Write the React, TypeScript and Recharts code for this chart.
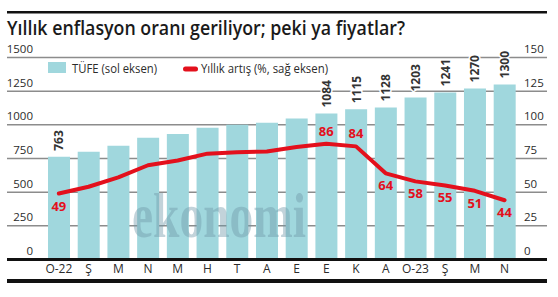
import React from 'react';
import {
  ComposedChart,
  Bar,
  Line,
  XAxis,
  YAxis,
  CartesianGrid,
  LabelList,
} from 'recharts';

// Categories (months Jan 2022 – Apr 2023)
const months = ['O-22', 'Ş', 'M', 'N', 'M', 'H', 'T', 'A', 'E', 'E', 'K', 'A', 'O-23', 'Ş', 'M', 'N'];
// TÜFE index (left axis)
const tufe = [763, 800, 844, 905, 932, 978, 1001, 1016, 1047, 1084, 1115, 1128, 1203, 1241, 1270, 1300];
// Annual change % (right axis)
const rate = [49, 54, 61, 70, 73.5, 78.6, 79.6, 80.2, 83.5, 86, 84, 64, 58, 55, 51, 44];
// Which bars / points carry value labels
const barLabelIdx = [0, 9, 10, 11, 12, 13, 14, 15];
const rateLabelAboveIdx = [9, 10];
const rateLabelBelowIdx = [0, 11, 12, 13, 14, 15];
// Tick labels
const leftTicks = [0, 250, 500, 750, 1000, 1250, 1500];
const rightTicks = [0, 25, 50, 75, 100, 125, 150];

const TITLE = 'Yıllık enflasyon oranı geriliyor; peki ya fiyatlar?';
const LEGEND_TUFE = 'TÜFE (sol eksen)';
const LEGEND_RATE = 'Yıllık artış (%, sağ eksen)';

const data = months.map((m, i) => ({
  idx: i,
  month: m,
  tufe: tufe[i],
  rate: rate[i],
  barLabel: barLabelIdx.includes(i) ? String(tufe[i]) : null,
  rateAbove: rateLabelAboveIdx.includes(i) ? String(Math.round(rate[i])) : null,
  rateBelow: rateLabelBelowIdx.includes(i) ? String(Math.round(rate[i])) : null,
}));

const FONT = '"Open Sans", "Noto Sans", sans-serif';
const BAR = '#a0d7dd';
const RED = '#e3101c';
const TEXT = '#2b2b2b';

const LeftTick = (props: any) => {
  const { y, payload } = props;
  return (
    <text x={33} y={Number(y) - 4.5} textAnchor="end" fontFamily={FONT} fontSize={11.5} fill={TEXT}>
      {payload.value}
    </text>
  );
};

const RightTick = (props: any) => {
  const { y, payload } = props;
  return (
    <text x={524} y={Number(y) - 4.5} textAnchor="start" fontFamily={FONT} fontSize={11.5} fill={TEXT}>
      {payload.value}
    </text>
  );
};

const XTick = (props: any) => {
  const { x, payload } = props;
  return (
    <text x={x} y={273} textAnchor="middle" fontFamily={FONT} fontSize={12} fill={TEXT}>
      {months[payload.value]}
    </text>
  );
};

const BarLabel = (props: any) => {
  const { x, y, width, value } = props;
  if (value === null || value === undefined || value === '') return null;
  const cx = Number(x) + Number(width) / 2 + 4.5;
  const ty = Number(y) - 6;
  return (
    <text
      x={cx}
      y={ty}
      transform={`rotate(-90 ${cx} ${ty})`}
      textAnchor="start"
      fontFamily={FONT}
      fontWeight={700}
      fontSize={12}
      fill="#333"
      stroke="#fff"
      strokeWidth={3}
      paintOrder="stroke"
    >
      {value}
    </text>
  );
};

const RateAbove = (props: any) => {
  const { x, y, value } = props;
  if (value === null || value === undefined || value === '') return null;
  return (
    <text x={x} y={Number(y) - 8} textAnchor="middle" fontFamily={FONT} fontWeight={700} fontSize={13} fill={RED}>
      {value}
    </text>
  );
};

const RateBelow = (props: any) => {
  const { x, y, value } = props;
  if (value === null || value === undefined || value === '') return null;
  return (
    <text x={x} y={Number(y) + 17} textAnchor="middle" fontFamily={FONT} fontWeight={700} fontSize={13} fill={RED}>
      {value}
    </text>
  );
};

export default function App() {
  return (
    <div style={{ position: 'absolute', left: 0, top: 0, width: 558, height: 297, background: '#fff' }}>
      <div style={{ position: 'absolute', left: 0, top: 0 }}>
        <ComposedChart
          width={558}
          height={297}
          data={data}
          margin={{ top: 57.5, right: 10, bottom: 17.5, left: 6 }}
        >
          <CartesianGrid yAxisId="left" vertical={false} stroke="#8c8c8c" strokeWidth={1.5} />
          <XAxis
            dataKey="idx"
            type="category"
            height={20}
            padding={{ left: 37, right: 27.6 }}
            axisLine={{ stroke: '#111', strokeWidth: 3 }}
            tickLine={false}
            interval={0}
            tick={<XTick />}
          />
          <YAxis
            yAxisId="left"
            width={1}
            domain={[0, 1500]}
            ticks={leftTicks}
            interval={0}
            axisLine={false}
            tickLine={false}
            tick={<LeftTick />}
          />
          <YAxis
            yAxisId="right"
            orientation="right"
            width={1}
            domain={[0, 150]}
            ticks={rightTicks}
            interval={0}
            axisLine={false}
            tickLine={false}
            tick={<RightTick />}
          />
          <Bar yAxisId="left" dataKey="tufe" fill={BAR} barSize={22} isAnimationActive={false}>
            <LabelList dataKey="barLabel" content={<BarLabel />} />
          </Bar>
          <Line
            yAxisId="right"
            type="linear"
            dataKey="rate"
            stroke={RED}
            strokeWidth={4}
            strokeLinejoin="round"
            strokeLinecap="round"
            dot={false}
            activeDot={false}
            isAnimationActive={false}
          >
            <LabelList dataKey="rateAbove" content={<RateAbove />} />
            <LabelList dataKey="rateBelow" content={<RateBelow />} />
          </Line>
        </ComposedChart>
      </div>
      <svg
        width={558}
        height={297}
        style={{ position: 'absolute', left: 0, top: 0, pointerEvents: 'none' }}
      >
        <rect x={7} y={11} width={540} height={2.5} fill="#111" />
        <text
          x={7}
          y={35}
          fontFamily={FONT}
          fontWeight={600}
          fontSize={19}
          fill="#1a1a1a"
          textLength={398}
          lengthAdjust="spacingAndGlyphs"
        >
          {TITLE}
        </text>
        {/* legend */}
        <rect x={48} y={62} width={18} height={11} fill={BAR} />
        <text x={72} y={73} fontFamily={FONT} fontSize={12} fill={TEXT} textLength={85} lengthAdjust="spacingAndGlyphs">
          {LEGEND_TUFE}
        </text>
        <rect x={183} y={66.5} width={15} height={5} rx={2.5} fill={RED} />
        <text x={201} y={73} fontFamily={FONT} fontSize={12} fill={TEXT} textLength={127} lengthAdjust="spacingAndGlyphs">
          {LEGEND_RATE}
        </text>
        {/* watermark */}
        <text
          x={132}
          y={237}
          fontFamily='"Liberation Serif", "DejaVu Serif", serif'
          fontWeight={700}
          fontSize={64}
          fill="#6f98a8"
          opacity={0.42}
          textLength={174}
          lengthAdjust="spacingAndGlyphs"
        >
          ekonomi
        </text>
        <rect x={7} y={279} width={540} height={4} fill="#111" />
      </svg>
    </div>
  );
}
